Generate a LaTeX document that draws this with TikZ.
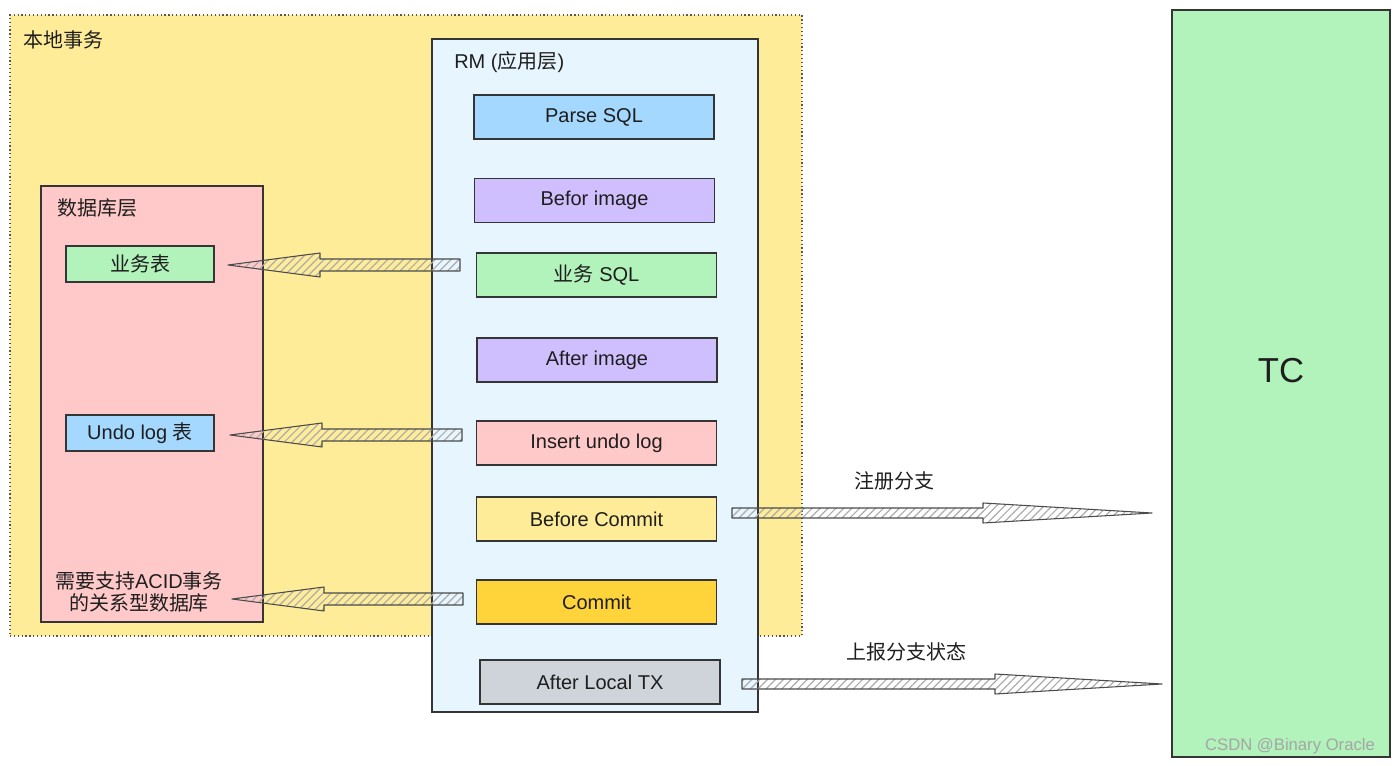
\documentclass[tikz,border=0pt]{standalone}
\usepackage{fontspec}
\setmainfont{Liberation Sans}
\newfontfamily\cjk{Noto Sans CJK SC}
\usetikzlibrary{calc,patterns.meta}

\definecolor{bgyellow}{HTML}{FFEC99}
\definecolor{rmblue}{HTML}{E7F5FF}
\definecolor{dbpink}{HTML}{FFC9C9}
\definecolor{stgreen}{HTML}{B2F2BB}
\definecolor{stblue}{HTML}{A5D8FF}
\definecolor{stpurple}{HTML}{D0BFFF}
\definecolor{stgold}{HTML}{FFD43B}
\definecolor{stgray}{HTML}{CED4DA}
\definecolor{ink}{HTML}{1E1E1E}

\newcommand{\fatarrow}[5]{%
\draw[fat] ($(#1)+(0,#4)$) -- ($(#2)+(#3,#4)$) -- ($(#2)+(#3,#5)$) -- (#2) -- ($(#2)+(#3,-#5)$) -- ($(#2)+(#3,-#4)$) -- ($(#1)+(0,-#4)$) -- cycle;}

\begin{document}
\begin{tikzpicture}[x=0.75pt,y=-0.75pt,
 container/.style={draw=ink!90,line width=0.9pt,inner sep=0pt},
 stepbox/.style={draw=ink!90,line width=0.9pt,minimum width=180pt,minimum height=33pt,inner sep=0pt,font=\fontsize{15pt}{18pt}\selectfont,text=ink},
 tablebox/.style={draw=ink!90,line width=0.9pt,minimum width=111pt,minimum height=27pt,inner sep=0pt,font=\fontsize{15pt}{18pt}\selectfont,text=ink},
 caption/.style={inner sep=0pt,font=\fontsize{15pt}{18pt}\selectfont,text=ink},
 fat/.style={draw=ink!80,line width=0.8pt,line join=round,pattern={Lines[angle=45,distance=4.2pt,line width=0.9pt]},pattern color=gray!65}]
\useasboundingbox (0,0) rectangle (1397,766);

\node(local)[container,draw=ink!75,dotted,line width=1.2pt,fill=bgyellow,minimum width=594pt,minimum height=465.75pt] at (406,325.5) {};
\node(rm)[container,fill=rmblue,minimum width=244.5pt,minimum height=504.75pt] at (595,375.5) {};
\node(db)[container,fill=dbpink,minimum width=166.5pt,minimum height=327pt] at (152,404) {};
\node(tc)[container,fill=stgreen,minimum width=163.5pt,minimum height=560.25pt] at (1281,383.5) {};

\node(locallbl)[caption,anchor=west] at (23,40) {\cjk 本地事务};
\node(rmlbl)[caption,anchor=west] at (454,62) {RM ({\cjk 应用层})};
\node(dblbl)[caption,anchor=west] at (57,208) {\cjk 数据库层};
\node(acid)[caption,align=center,font=\fontsize{15pt}{17pt}\selectfont] at (139,592) {{\cjk 需要支持}ACID{\cjk 事务}\\{\cjk 的关系型数据库}};
\node(tclbl)[caption,font=\fontsize{26pt}{30pt}\selectfont] at (1281,371) {TC};

\node(parse)[stepbox,fill=stblue] at (594,117) {Parse SQL};
\node(before)[stepbox,fill=stpurple] at (594.5,200.5) {Befor image};
\node(bizsql)[stepbox,fill=stgreen] at (596.5,275) {{\cjk 业务} SQL};
\node(after)[stepbox,fill=stpurple] at (597,360) {After image};
\node(undo)[stepbox,fill=dbpink] at (596.5,443) {Insert undo log};
\node(bcommit)[stepbox,fill=bgyellow] at (596.5,519) {Before Commit};
\node(commit)[stepbox,fill=stgold] at (596.5,602) {Commit};
\node(afterlocal)[stepbox,fill=stgray] at (600,682) {After Local TX};

\node(biztbl)[tablebox,fill=stgreen] at (140,264) {\cjk 业务表};
\node(undotbl)[tablebox,fill=stblue] at (140,433) {Undo log {\cjk 表}};

\coordinate (s1) at (460,265);
\coordinate (e1) at (228,265);
\coordinate (s2) at (462,435);
\coordinate (e2) at (230,435);
\coordinate (s3) at (463,599);
\coordinate (e3) at (232,599);
\coordinate (s4) at (732,513);
\coordinate (e4) at (1152,513);
\coordinate (s5) at (742,684);
\coordinate (e5) at (1162,684);

\fatarrow{s1}{e1}{92}{6}{12}
\fatarrow{s2}{e2}{92}{6}{12}
\fatarrow{s3}{e3}{92}{6}{12}
\fatarrow{s4}{e4}{-169}{5}{10}
\fatarrow{s5}{e5}{-167}{5}{10}

\node(reg)[caption] at (894,481) {\cjk 注册分支};
\node(report)[caption] at (906,652) {\cjk 上报分支状态};
\node(mark)[inner sep=0pt,text=gray!70,font=\fontsize{12.5pt}{14pt}\selectfont] at (1290,746) {CSDN @Binary Oracle};
\end{tikzpicture}
\end{document}
